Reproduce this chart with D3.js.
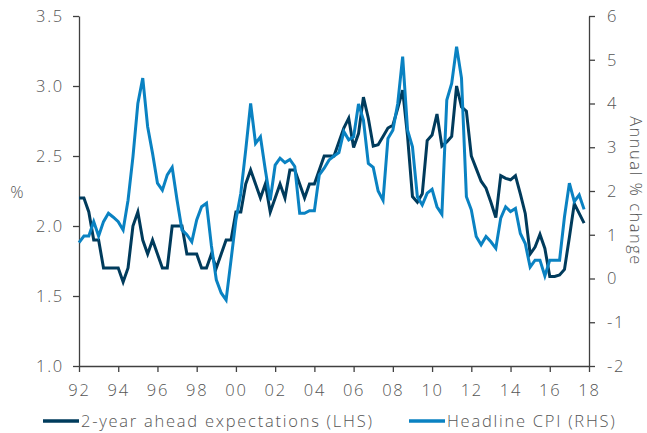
<!DOCTYPE html>
<html>
<head>
<meta charset="utf-8">
<script src="https://cdn.jsdelivr.net/npm/d3@7"></script>
<style>
  html, body { margin: 0; padding: 0; background: #fff; }
  svg { display: block; }
  text { font-family: "Open Sans", "DejaVu Sans", sans-serif; font-weight: 300; fill: #555; }
</style>
</head>
<body>
<svg id="chart" width="647" height="433"></svg>
<script>
// Quarterly observations, 1992 Q1 to 2017 Q4
const startYear = 1992;

// 2-year ahead inflation expectations, % (left axis)
const expectations = [
  2.2, 2.2, 2.1, 1.9, 1.9, 1.7, 1.7, 1.7, 1.7, 1.6, 1.7, 2.0, 2.1, 1.9, 1.8, 1.9,
  1.8, 1.7, 1.7, 2.0, 2.0, 2.0, 1.8, 1.8, 1.8, 1.7, 1.7, 1.8, 1.7, 1.8, 1.9, 1.9,
  2.1, 2.1, 2.3, 2.4, 2.3, 2.2, 2.3, 2.1, 2.2, 2.3, 2.2, 2.4, 2.4, 2.3, 2.2, 2.3,
  2.3, 2.4, 2.5, 2.5, 2.5, 2.6, 2.7, 2.77, 2.56, 2.66, 2.92, 2.77, 2.57, 2.58, 2.64, 2.7,
  2.72, 2.84, 2.97, 2.64, 2.21, 2.17, 2.23, 2.61, 2.65, 2.8, 2.57, 2.6, 2.64, 3.0, 2.85, 2.82,
  2.5, 2.41, 2.32, 2.27, 2.17, 2.06, 2.36, 2.34, 2.33, 2.36, 2.23, 2.09, 1.8, 1.85, 1.94, 1.84,
  1.64, 1.64, 1.65, 1.69, 1.92, 2.16, 2.09, 2.02
];

// Headline CPI, annual % change (right axis)
const headlineCPI = [
  0.82, 0.97, 0.97, 1.3, 0.97, 1.3, 1.49, 1.4, 1.3, 1.11, 1.79, 2.78, 4.0, 4.58, 3.47, 2.86,
  2.18, 2.02, 2.37, 2.54, 1.79, 1.11, 1.0, 0.84, 1.34, 1.64, 1.72, 0.75, -0.03, -0.33, -0.49, 0.42,
  1.34, 1.95, 2.94, 4.0, 3.09, 3.24, 2.48, 1.79, 2.59, 2.75, 2.65, 2.72, 2.56, 1.49, 1.49, 1.55,
  1.55, 2.37, 2.52, 2.71, 2.8, 2.88, 3.36, 3.17, 3.24, 3.99, 3.62, 2.63, 2.54, 2.0, 1.79, 3.2,
  3.39, 4.0, 5.07, 3.39, 3.01, 1.87, 1.68, 1.95, 2.04, 1.64, 1.47, 4.08, 4.46, 5.3, 4.58, 1.87,
  1.57, 0.96, 0.77, 0.96, 0.84, 0.69, 1.38, 1.64, 1.53, 1.6, 1.03, 0.8, 0.26, 0.42, 0.42, 0.06,
  0.42, 0.42, 0.42, 1.41, 2.18, 1.76, 1.91, 1.58
];

const xTicks = d3.range(1992, 2019, 2);
const leftTicks = [1.0, 1.5, 2.0, 2.5, 3.0, 3.5];
const rightTicks = [-2, -1, 0, 1, 2, 3, 4, 5, 6];

const seriesNames = ["2-year ahead expectations (LHS)", "Headline CPI (RHS)"];
const seriesColors = ["#003b5c", "#0a82c2"];

const margin = { left: 79, right: 58, top: 16, bottom: 67 };
const W = 647, H = 433;
const FS = 16.5;
const LS = 1.75;
const svg = d3.select("#chart");

const x = d3.scaleLinear().domain([1992, 2018]).range([margin.left, W - margin.right]);
const yL = d3.scaleLinear().domain([1, 3.5]).range([H - margin.bottom, margin.top]);
const yR = d3.scaleLinear().domain([-2, 6]).range([H - margin.bottom, margin.top]);

const qx = i => x(startYear + i / 4);

// axes
const axisColor = "#404040";
function styleAxis(g) {
  g.selectAll(".domain").attr("stroke", axisColor).attr("stroke-width", 1.3);
  g.selectAll(".tick line").attr("stroke", axisColor).attr("stroke-width", 1.3);
  g.selectAll(".tick text").attr("font-size", FS).attr("fill", "#555")
    .attr("letter-spacing", LS)
    .attr("font-family", "\"Open Sans\", \"DejaVu Sans\", sans-serif").attr("font-weight", 300);
}

svg.append("g")
  .attr("transform", `translate(${margin.left},0)`)
  .call(d3.axisLeft(yL).tickValues(leftTicks).tickFormat(d3.format(".1f")).tickSize(6).tickSizeOuter(0).tickPadding(9))
  .call(styleAxis);

svg.append("g")
  .attr("transform", `translate(${W - margin.right},0)`)
  .call(d3.axisRight(yR).tickValues(rightTicks).tickFormat(d => String(d)).tickSize(6).tickSizeOuter(0).tickPadding(12))
  .call(styleAxis);

svg.append("g")
  .attr("transform", `translate(0,${H - margin.bottom})`)
  .call(d3.axisBottom(x).tickValues(xTicks).tickFormat(d => String(d % 100).padStart(2, "0")).tickSize(6).tickSizeOuter(0).tickPadding(12))
  .call(styleAxis);

// axis titles
svg.append("text")
  .attr("x", 17).attr("y", (margin.top + H - margin.bottom) / 2 + 7)
  .attr("text-anchor", "middle").attr("font-size", FS)
  .text("%");

svg.append("text")
  .attr("transform", `translate(630,${(margin.top + H - margin.bottom) / 2}) rotate(90)`)
  .attr("text-anchor", "middle").attr("font-size", FS).attr("letter-spacing", 1.5)
  .text("Annual % change");

// series lines
const lineL = d3.line().x((d, i) => qx(i)).y(d => yL(d));
const lineR = d3.line().x((d, i) => qx(i)).y(d => yR(d));

svg.append("path").datum(expectations)
  .attr("d", lineL).attr("fill", "none")
  .attr("stroke", seriesColors[0]).attr("stroke-width", 3);

svg.append("path").datum(headlineCPI)
  .attr("d", lineR).attr("fill", "none")
  .attr("stroke", seriesColors[1]).attr("stroke-width", 3);

// legend
const legendY = 421;
const legendItems = [
  { x0: 43, x1: 79, tx: 81 },
  { x0: 409, x1: 445, tx: 447 }
];
legendItems.forEach((it, k) => {
  svg.append("line")
    .attr("x1", it.x0).attr("x2", it.x1).attr("y1", legendY).attr("y2", legendY)
    .attr("stroke", seriesColors[k]).attr("stroke-width", 3.5);
  svg.append("text")
    .attr("x", it.tx).attr("y", legendY + 6)
    .attr("font-size", FS).attr("letter-spacing", LS)
    .text(seriesNames[k]);
});
</script>
</body>
</html>
